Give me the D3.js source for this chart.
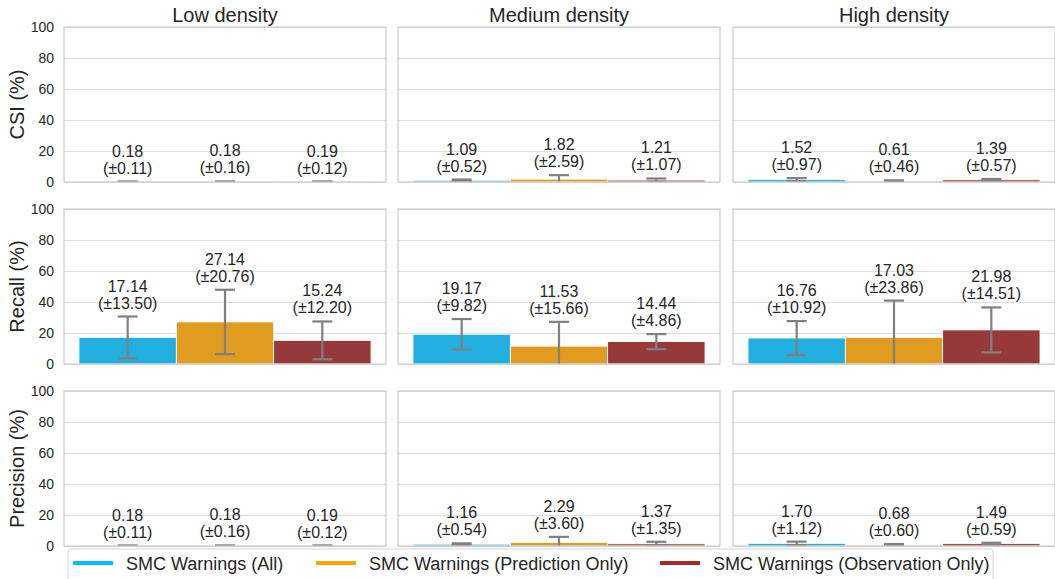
<!DOCTYPE html>
<html>
<head>
<meta charset="utf-8">
<script src="https://cdn.jsdelivr.net/npm/d3@7"></script>
<style>
  body { margin: 0; background: #fff; }
  svg { display: block; font-family: "Liberation Sans", Arial, sans-serif; }
</style>
</head>
<body>
<svg id="chart" width="1055" height="579"></svg>
<script>
// data
var densities = ["Low density", "Medium density", "High density"]
var metrics = ["CSI (%)", "Recall (%)", "Precision (%)"]
var seriesNames = ["SMC Warnings (All)", "SMC Warnings (Prediction Only)", "SMC Warnings (Observation Only)"]
var barColors = ["#20afdf", "#df9c20", "#96393a"]
var legendColors = ["#00bfff", "#ffa500", "#a52a2a"]
var yTicks = [0, 20, 40, 60, 80, 100]

// [density][series]
var csiMean = [[0.18, 0.18, 0.19], [1.09, 1.82, 1.21], [1.52, 0.61, 1.39]]
var csiSd = [[0.11, 0.16, 0.12], [0.52, 2.59, 1.07], [0.97, 0.46, 0.57]]
var recallMean = [[17.14, 27.14, 15.24], [19.17, 11.53, 14.44], [16.76, 17.03, 21.98]]
var recallSd = [[13.50, 20.76, 12.20], [9.82, 15.66, 4.86], [10.92, 23.86, 14.51]]
var precisionMean = [[0.18, 0.18, 0.19], [1.16, 2.29, 1.37], [1.70, 0.68, 1.49]]
var precisionSd = [[0.11, 0.16, 0.12], [0.54, 3.60, 1.35], [1.12, 0.60, 0.59]]

var means = [csiMean, recallMean, precisionMean]
var sds = [csiSd, recallSd, precisionSd]

var dimensions = {
  panelWidth: 322,
  panelHeight: 155,
  colX: [64, 398, 733],
  rowY: [27, 209, 391]
}

var textColor = "#262626"
var svg = d3.select("#chart")

var yScale = d3.scaleLinear()
  .domain([0, 100])
  .range([dimensions.panelHeight, 0])

var xScale = d3.scaleBand()
  .domain(seriesNames)
  .range([15, dimensions.panelWidth - 15])
  .padding(0)

metrics.forEach((metric, r) => {
  densities.forEach((density, c) => {
    var g = svg.append("g")
      .attr("transform", `translate(${dimensions.colX[c]},${dimensions.rowY[r]})`)

    var clipId = `clip-${r}-${c}`
    g.append("clipPath").attr("id", clipId)
      .append("rect")
      .attr("width", dimensions.panelWidth)
      .attr("height", dimensions.panelHeight)

    // gridlines
    g.append("g")
      .call(d3.axisLeft(yScale).tickValues(yTicks).tickSize(-dimensions.panelWidth).tickFormat(""))
      .call(a => a.select(".domain").remove())
      .selectAll("line")
      .attr("stroke", "#dedede")
      .attr("stroke-width", 1)

    // y tick labels only on first column
    if (c == 0) {
      g.append("g")
        .call(d3.axisLeft(yScale).tickValues(yTicks).tickSize(0).tickPadding(10))
        .call(a => a.select(".domain").remove())
        .selectAll("text")
        .attr("fill", textColor)
        .attr("font-size", "14px")
        .attr("font-family", "Liberation Sans, Arial, sans-serif")

      svg.append("text")
        .attr("transform", `translate(24,${dimensions.rowY[r] + dimensions.panelHeight / 2}) rotate(-90)`)
        .attr("text-anchor", "middle")
        .attr("font-size", "20px")
        .attr("fill", textColor)
        .text(metric)
    }

    if (r == 0) {
      svg.append("text")
        .attr("x", dimensions.colX[c] + dimensions.panelWidth / 2)
        .attr("y", 22)
        .attr("text-anchor", "middle")
        .attr("font-size", "20px")
        .attr("fill", textColor)
        .text(density)
    }

    var data = seriesNames.map((s, i) => ({
      name: s,
      mean: means[r][c][i],
      sd: sds[r][c][i],
      color: barColors[i]
    }))

    var plot = g.append("g").attr("clip-path", `url(#${clipId})`)

    plot.selectAll(".bar")
      .data(data)
      .enter()
      .append("rect")
        .attr("class", "bar")
        .attr("x", d => xScale(d.name))
        .attr("width", xScale.bandwidth())
        .attr("y", d => yScale(d.mean))
        .attr("height", d => yScale(0) - yScale(d.mean))
        .attr("fill", d => d.color)
        .attr("stroke", "#fff")
        .attr("stroke-width", 0.8)

    var cx = d => xScale(d.name) + xScale.bandwidth() / 2
    var errColor = "#808080"
    var capW = 10

    var err = plot.selectAll(".err")
      .data(data)
      .enter()
      .append("g")
        .attr("class", "err")
        .attr("stroke", errColor)
        .attr("stroke-width", 2.2)

    err.append("line")
      .attr("x1", cx).attr("x2", cx)
      .attr("y1", d => yScale(d.mean - d.sd))
      .attr("y2", d => yScale(d.mean + d.sd))
    err.append("line")
      .attr("x1", d => cx(d) - capW).attr("x2", d => cx(d) + capW)
      .attr("y1", d => yScale(d.mean + d.sd))
      .attr("y2", d => yScale(d.mean + d.sd))
    err.append("line")
      .attr("x1", d => cx(d) - capW).attr("x2", d => cx(d) + capW)
      .attr("y1", d => yScale(d.mean - d.sd))
      .attr("y2", d => yScale(d.mean - d.sd))

    // value labels
    var lab = g.selectAll(".lab")
      .data(data)
      .enter()
      .append("text")
        .attr("class", "lab")
        .attr("text-anchor", "middle")
        .attr("font-size", "16px")
        .attr("fill", textColor)
    lab.append("tspan")
      .attr("x", cx)
      .attr("y", d => yScale(d.mean + d.sd) - 25)
      .text(d => d.mean.toFixed(2))
    lab.append("tspan")
      .attr("x", cx)
      .attr("y", d => yScale(d.mean + d.sd) - 8)
      .text(d => "(±" + d.sd.toFixed(2) + ")")

    // panel border
    g.append("rect")
      .attr("width", dimensions.panelWidth)
      .attr("height", dimensions.panelHeight)
      .attr("fill", "none")
      .attr("stroke", "#cccccc")
      .attr("stroke-width", 1.2)
  })
})

// legend
var legend = svg.append("g").attr("transform", "translate(68,549)")
legend.append("rect")
  .attr("width", 925)
  .attr("height", 40)
  .attr("rx", 3)
  .attr("fill", "#fff")
  .attr("stroke", "#d6d6d6")
  .attr("stroke-width", 1)

var legendX = [5, 248, 592]
seriesNames.forEach((s, i) => {
  var item = legend.append("g").attr("transform", `translate(${legendX[i]},0)`)
  item.append("line")
    .attr("x1", 0).attr("x2", 40)
    .attr("y1", 14).attr("y2", 14)
    .attr("stroke", legendColors[i])
    .attr("stroke-width", 4)
  item.append("text")
    .attr("x", 53)
    .attr("y", 21)
    .attr("font-size", "18px")
    .attr("fill", textColor)
    .text(s)
})
</script>
</body>
</html>
